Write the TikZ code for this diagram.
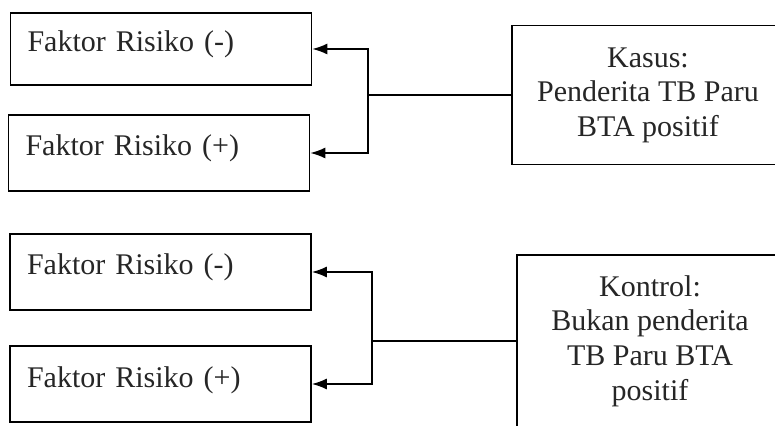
\documentclass[tikz,border=0pt]{standalone}
\usepackage{fontspec}
\setmainfont{Liberation Serif}
\usetikzlibrary{arrows.meta}

\begin{document}
\begin{tikzpicture}[x=0.5pt, y=-0.5pt,
    faktor/.style={draw, line width=0.8pt, text width=133.5pt, inner xsep=8.5pt, align=left,
        minimum height=38pt, text height=11pt, text depth=8pt,
        font=\fontsize{15}{17.5}\selectfont, text=black!85},
    kelompok/.style={draw, line width=0.8pt, align=center,
        font=\fontsize{15}{17.3}\selectfont, text=black!85},
    panah/.style={-{Latex[length=7.5pt, width=5.5pt]}, line width=0.8pt}]
    % picture frame (right boxes run off the edge)
    \useasboundingbox (0,0) rectangle (775,426);
    \clip (0,0) rectangle (775,426);

    % Top: Kasus group
    \node[faktor, minimum height=36pt] (kasusneg) at (161,49) {Faktor Risiko (-)};
    \node[faktor] (kasuspos) at (159,153) {Faktor Risiko (+)};
    \node[kelompok, minimum width=136pt, minimum height=69.5pt] (kasus) at (648,95)
        {Kasus:\\Penderita TB Paru\\BTA positif};

    % fork from Kasus to both risk factors
    \coordinate (cabangA) at (368,95);
    \draw[line width=0.8pt] (kasus.west) -- (cabangA);
    \draw[panah] (cabangA) |- (kasusneg.east);
    \draw[panah] (cabangA) |- (kasuspos.east);

    % Bottom: Kontrol group
    \node[faktor] (kontrolneg) at (160.5,272) {Faktor Risiko (-)};
    \node[faktor] (kontrolpos) at (160.5,384) {Faktor Risiko (+)};
    \node[kelompok, minimum width=133pt, minimum height=86pt] (kontrol) at (650,341)
        {Kontrol:\\Bukan penderita\\TB Paru BTA\\positif};

    % fork from Kontrol to both risk factors
    \coordinate (cabangB) at (372,341);
    \draw[line width=0.8pt] (kontrol.west) -- (cabangB);
    \draw[panah] (cabangB) |- (kontrolneg.east);
    \draw[panah] (cabangB) |- (kontrolpos.east);
\end{tikzpicture}
\end{document}
